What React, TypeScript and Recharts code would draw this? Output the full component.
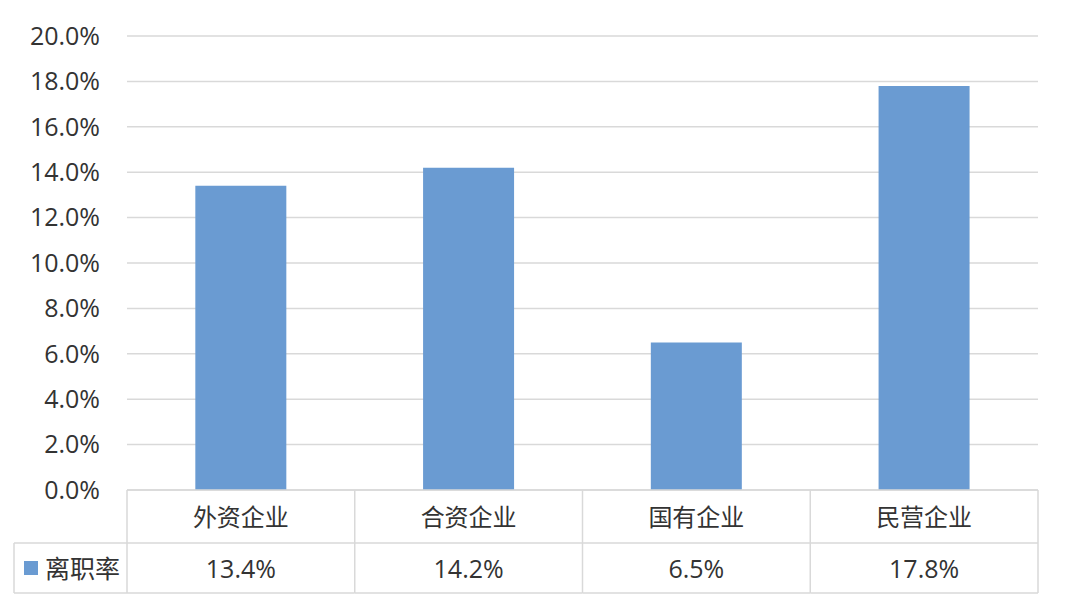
import React from 'react';
import { BarChart, Bar, XAxis, YAxis, CartesianGrid } from 'recharts';

// values
const categories = ['外资企业', '合资企业', '国有企业', '民营企业'];
const turnoverRate = [13.4, 14.2, 6.5, 17.8];
const seriesName = '离职率';
const yTicks = [0, 2, 4, 6, 8, 10, 12, 14, 16, 18, 20];

const data = categories.map((name, i) => ({ name, rate: turnoverRate[i] }));

const W = 1080;
const H = 608;
const margin = { top: 36, right: 42, bottom: 15, left: 0 };
const Y_W = 127;
const X_H = 103; // whole data table under the plot
const ROW1 = 53; // category row
const LEGEND_X = 14;
const BAND = (W - margin.left - margin.right - Y_W) / categories.length;

const FONT = "'Open Sans', 'Noto Sans CJK SC', sans-serif";
const GRID = '#d9d9d9';
const TEXT = '#333333';
const BAR = '#6a9bd2';
const FS_NUM = 25;
const FS_CJK = 24;

const fmt = (v: number) => `${v.toFixed(1)}%`;

// each x tick draws its column of the data table
const TableTick = (props: any) => {
    const { x, y, payload, index } = props;
    const left = x - BAND / 2;
    const right = x + BAND / 2;
    const mid = y + ROW1;
    const bottom = y + X_H;
    const line = { stroke: GRID, strokeWidth: 1.5 };
    return (
        <g>
            <line x1={left} y1={y} x2={left} y2={bottom} {...line} />
            {index === categories.length - 1 && <line x1={right} y1={y} x2={right} y2={bottom} {...line} />}
            <line x1={left} y1={mid} x2={right} y2={mid} {...line} />
            <line x1={left} y1={bottom} x2={right} y2={bottom} {...line} />
            <text x={x} y={y + ROW1 / 2} textAnchor="middle" dominantBaseline="central" fill={TEXT} fontSize={FS_CJK} fontFamily={FONT}>
                {payload.value}
            </text>
            <text x={x} y={mid + (X_H - ROW1) / 2} textAnchor="middle" dominantBaseline="central" fill={TEXT} fontSize={FS_NUM} fontFamily={FONT}>
                {fmt(data[index].rate)}
            </text>
            {index === 0 && (
                <g>
                    <line x1={LEGEND_X} y1={mid} x2={left} y2={mid} {...line} />
                    <line x1={LEGEND_X} y1={bottom} x2={left} y2={bottom} {...line} />
                    <line x1={LEGEND_X} y1={mid} x2={LEGEND_X} y2={bottom} {...line} />
                    <rect x={LEGEND_X + 10} y={mid + (X_H - ROW1) / 2 - 7} width={14} height={14} fill={BAR} />
                    <text x={LEGEND_X + 31} y={mid + (X_H - ROW1) / 2} dominantBaseline="central" fill={TEXT} fontSize={25} fontFamily={FONT}>
                        {seriesName}
                    </text>
                </g>
            )}
        </g>
    );
};

export default function App() {
    return (
        <div style={{ position: 'absolute', left: 0, top: 0, width: W, height: H, background: '#fff' }}>
            <BarChart width={W} height={H} data={data} margin={margin} barCategoryGap="30%">
                <CartesianGrid vertical={false} stroke={GRID} strokeWidth={1.5} />
                <XAxis
                    dataKey="name"
                    height={X_H}
                    axisLine={{ stroke: GRID, strokeWidth: 1.5 }}
                    tickLine={false}
                    tickSize={0}
                    tickMargin={0}
                    interval={0}
                    tick={<TableTick />}
                />
                <YAxis
                    width={Y_W}
                    domain={[0, 20]}
                    ticks={yTicks}
                    tickFormatter={fmt}
                    axisLine={false}
                    tickLine={false}
                    tickSize={0}
                    tickMargin={27}
                    tick={{ fill: TEXT, fontSize: FS_NUM, fontFamily: FONT }}
                />
                <Bar dataKey="rate" name={seriesName} fill={BAR} isAnimationActive={false} />
            </BarChart>
        </div>
    );
}
